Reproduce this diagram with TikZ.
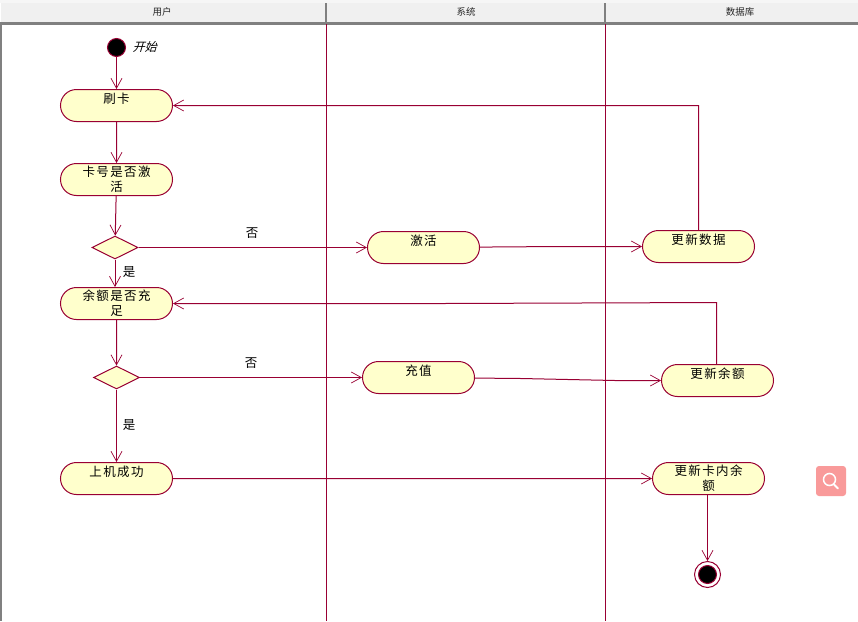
\documentclass[tikz,border=0pt]{standalone}
\usepackage{fontspec}
\usetikzlibrary{arrows.meta,shapes.misc,shapes.geometric}
\setmainfont{Noto Sans CJK SC}
\newfontfamily\actfont[LetterSpace=11]{Noto Sans CJK SC}
\newfontfamily\slantfont[FakeSlant=0.3]{Noto Sans CJK SC}
\definecolor{umlline}{HTML}{990033}
\definecolor{umlfill}{HTML}{FFFFCC}
\definecolor{headfill}{HTML}{F0F0F0}
\definecolor{headrule}{HTML}{808080}
\definecolor{iconfill}{HTML}{F99A9A}
\tikzset{
  act/.style={rounded rectangle,draw=umlline,fill=umlfill,line width=1pt,minimum width=112pt,minimum height=32pt,inner sep=0pt,align=center,font=\actfont\fontsize{12.5pt}{15pt}\selectfont},
  choice/.style={diamond,draw=umlline,fill=umlfill,line width=1pt,minimum width=46pt,minimum height=23pt,inner sep=0pt,aspect=2},
  flow/.style={draw=umlline,line width=1pt,-{Straight Barb[length=10pt,width=11pt,line width=0.7pt]}},
  lane/.style={draw=umlline,line width=1pt},
  guard/.style={inner sep=0pt,font=\fontsize{12.5pt}{15pt}\selectfont},
  headtext/.style={inner sep=0pt,font=\fontsize{9.5pt}{11pt}\selectfont,text=black!85}
}
\begin{document}
\begin{tikzpicture}[x=1pt,y=-1pt]
\useasboundingbox (0,0) rectangle (858,621);
\fill[white] (0,0) rectangle (858,621);
% header
\fill[headfill!60] (0,0) rectangle (858,3);
\fill[headfill] (1,3) rectangle (858,22);
\fill[headrule] (0,22) rectangle (858,24.5);
\fill[headrule] (325.2,3) rectangle (326.8,22);
\fill[headrule] (604.2,3) rectangle (605.8,22);
\fill[headrule] (0,24) rectangle (2,621);
\node[headtext] (h1) at (162,12) {用户};
\node[headtext] (h2) at (466,12) {系统};
\node[headtext] (h3) at (740,12) {数据库};
% lanes
\coordinate (l1t) at (326.5,24);
\coordinate (l1b) at (326.5,621);
\coordinate (l2t) at (605.5,24);
\coordinate (l2b) at (605.5,621);
\draw[lane] (l1t) -- (l1b);
\draw[lane] (l2t) -- (l2b);
% nodes
\node[circle,fill=black,draw=umlline,line width=1pt,minimum size=18pt,inner sep=0pt] (start) at (116.5,47.5) {};
\node[inner sep=0pt,font=\slantfont\fontsize{12pt}{14pt}\selectfont] (startl) at (144.5,47) {开始};
\node[act] (card) at (116.5,105.5) {刷卡\\~};
\node[act] (active) at (116.5,179.5) {卡号是否激\\活};
\node[choice] (d1) at (115,247.5) {};
\node[act] (bal) at (116.5,303.5) {余额是否充\\足};
\node[choice] (d2) at (116.5,377.5) {};
\node[act] (ok) at (116.5,478.5) {上机成功\\~};
\node[act] (act2) at (423.5,247.5) {激活\\~};
\node[act] (upd) at (698.5,246.5) {更新数据\\~};
\node[act] (top) at (418.5,377.5) {充值\\~};
\node[act] (updb) at (717.5,380.5) {更新余额\\~};
\node[act] (updc) at (708.5,478.5) {更新卡内余\\额};
\node[circle,draw=umlline,fill=white,line width=1pt,minimum size=26pt,inner sep=0pt] (endo) at (707.5,574.5) {};
\node[circle,fill=black,draw=umlline,line width=1pt,minimum size=18pt,inner sep=0pt] (endi) at (707.5,574.5) {};
% waypoints
\coordinate (w1) at (560,246.5);
\coordinate (w2) at (698.5,105.5);
\coordinate (w3) at (521,378.5);
\coordinate (w4) at (716.5,302.5);
\coordinate (w5) at (444,303.5);
\coordinate (w6) at (615,380.5);
% connectors
\draw[flow] (start) -- (card);
\draw[flow] (card) -- (active);
\draw[flow] (active) -- (d1);
\draw[flow] (d1.south) -- (d1.south |- bal.north);
\draw[flow] (bal) -- (d2);
\draw[flow] (d2) -- (ok);
\draw[flow] (d1) -- (act2);
\draw[flow] (act2) -- (w1) -- (upd);
\draw[flow] (upd) -- (w2) -- (card);
\draw[flow] (d2) -- (top);
\draw[flow] (top) -- (w3) -- (w6) -- (updb);
\draw[flow] (updb.north -| w4) -- (w4) -- (w5) -- (bal);
\draw[flow] (ok) -- (updc);
\draw[flow] (updc.south -| endo) -- (endo);
% labels
\node[guard] (g1) at (252,233) {否};
\node[guard] (g2) at (129,272) {是};
\node[guard] (g3) at (251,363) {否};
\node[guard] (g4) at (129,425) {是};
% corner icon
\node[fill=iconfill,rounded corners=3pt,minimum size=30pt,inner sep=0pt] (icon) at (831,481) {};
\draw[white,line width=1.5pt] (829.5,479.5) circle (6pt);
\draw[white,line width=2pt,line cap=round] (834,484.5) -- (838,488.5);
\end{tikzpicture}
\end{document}
